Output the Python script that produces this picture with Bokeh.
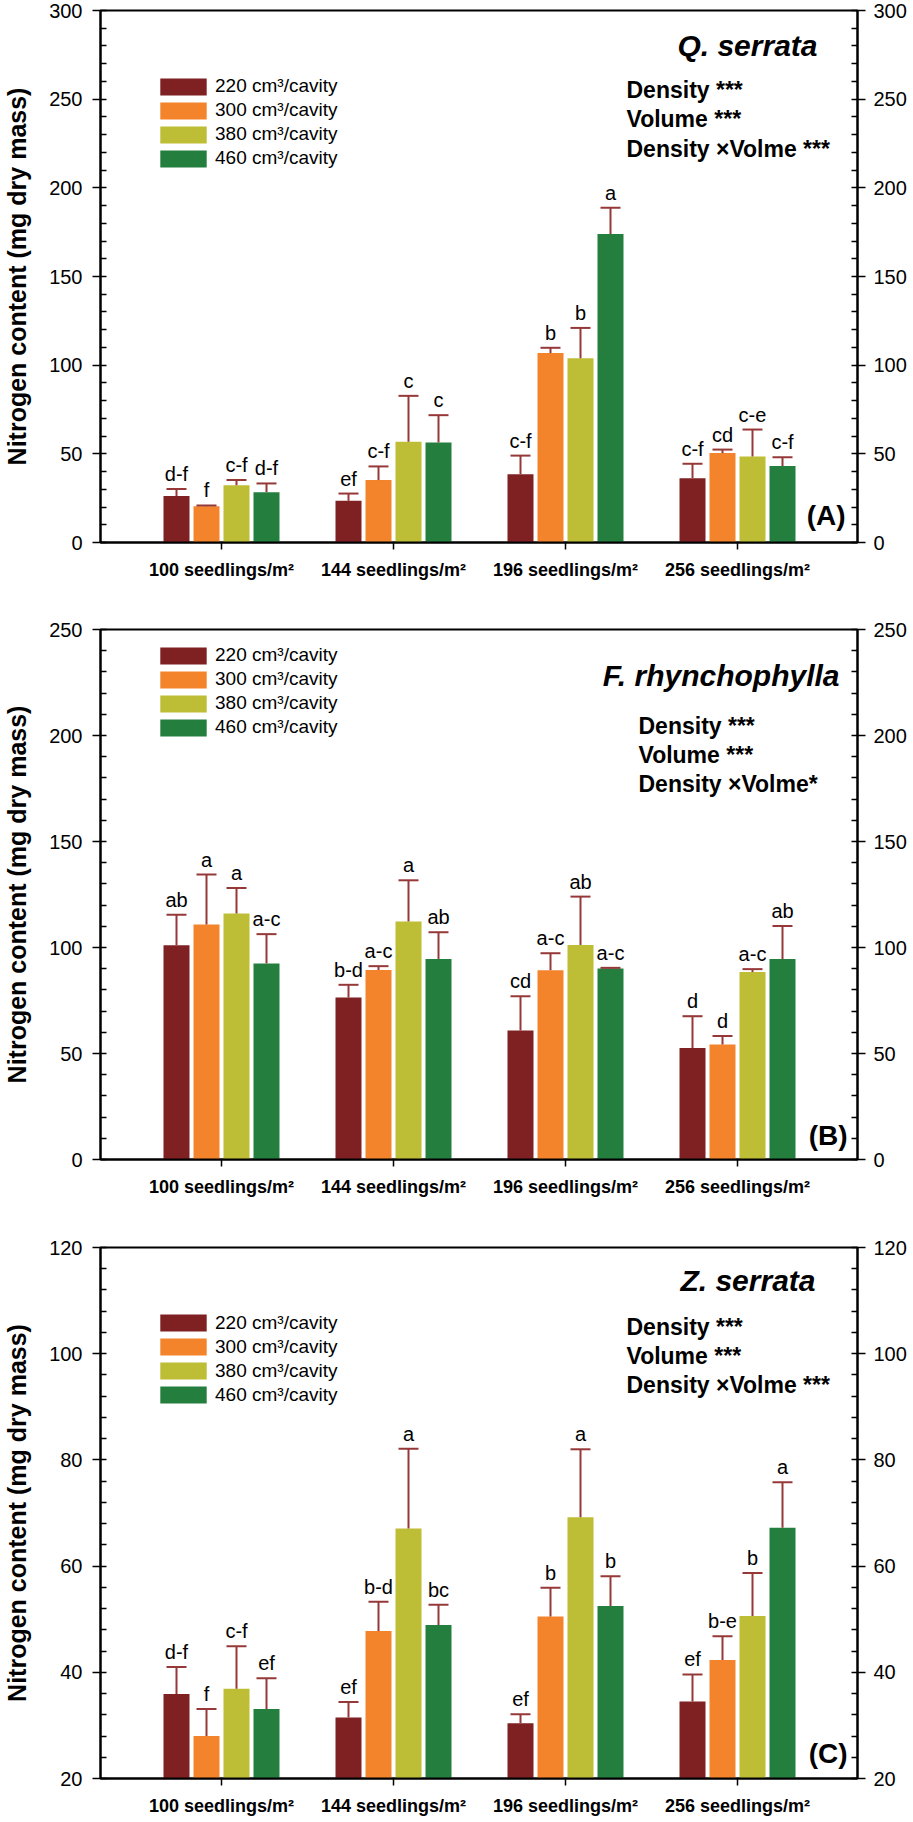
from bokeh.plotting import figure
from bokeh.models import (Range1d, SingleIntervalTicker, FixedTicker, LinearAxis,
                          ColumnDataSource, Whisker, TeeHead, Label, Legend, LegendItem)
from bokeh.layouts import column
from bokeh.embed import file_html
from bokeh.resources import INLINE
from bokeh.core.properties import value

# ---------------- data ----------------
densities = ["100 seedlings/m²", "144 seedlings/m²", "196 seedlings/m²", "256 seedlings/m²"]
volumes = ["220 cm³/cavity", "300 cm³/cavity", "380 cm³/cavity", "460 cm³/cavity"]

# (A) Q. serrata
qs_220 = [26.2, 23.5, 38.5, 36.3]
qs_300 = [20.5, 35.2, 106.8, 50.4]
qs_380 = [32.3, 56.8, 103.9, 48.5]
qs_460 = [28.4, 56.4, 174.0, 43.1]
qs_err_220 = [3.9, 4.1, 10.5, 8.1]
qs_err_300 = [0.4, 7.7, 3.0, 2.0]
qs_err_380 = [3.0, 25.9, 17.1, 15.2]
qs_err_460 = [4.9, 15.4, 14.7, 5.0]
qs_let_220 = ["d-f", "ef", "c-f", "c-f"]
qs_let_300 = ["f", "c-f", "b", "cd"]
qs_let_380 = ["c-f", "c", "b", "c-e"]
qs_let_460 = ["d-f", "c", "a", "c-f"]

# (B) F. rhynchophylla
fr_220 = [101.1, 76.4, 60.8, 52.6]
fr_300 = [110.8, 89.4, 89.3, 54.2]
fr_380 = [116.0, 112.3, 101.2, 88.4]
fr_460 = [92.5, 94.6, 90.1, 94.6]
fr_err_220 = [14.3, 6.0, 16.2, 15.0]
fr_err_300 = [23.6, 1.8, 8.0, 4.0]
fr_err_380 = [12.1, 19.4, 22.8, 1.4]
fr_err_460 = [13.8, 12.6, 0.3, 15.6]
fr_let_220 = ["ab", "b-d", "cd", "d"]
fr_let_300 = ["a", "a-c", "a-c", "d"]
fr_let_380 = ["a", "a", "ab", "a-c"]
fr_let_460 = ["a-c", "ab", "a-c", "ab"]

# (C) Z. serrata
zs_220 = [35.9, 31.5, 30.4, 34.5]
zs_300 = [28.0, 47.8, 50.5, 42.3]
zs_380 = [36.9, 67.1, 69.2, 50.6]
zs_460 = [33.1, 48.9, 52.5, 67.2]
zs_err_220 = [5.1, 2.9, 1.7, 5.1]
zs_err_300 = [5.1, 5.5, 5.4, 4.5]
zs_err_380 = [8.0, 15.0, 12.8, 8.1]
zs_err_460 = [5.8, 3.8, 5.6, 8.6]
zs_let_220 = ["d-f", "ef", "ef", "ef"]
zs_let_300 = ["f", "b-d", "b", "b-e"]
zs_let_380 = ["c-f", "a", "a", "b"]
zs_let_460 = ["ef", "bc", "b", "a"]

stats_qs = ["Density ***", "Volume ***", "Density ×Volme ***"]
stats_fr = ["Density ***", "Volume ***", "Density ×Volme*"]
stats_zs = ["Density ***", "Volume ***", "Density ×Volme ***"]

# ---------------- style ----------------
FONT = "Liberation Sans"
colors = ["#7F2022", "#F4842B", "#BDBE35", "#247F3E"]
err_color = "#963838"
W = 913
BL, BR = 100, 56
step_px = 172.0
x_lo, x_hi = -121 / step_px, 636 / step_px
offs = [(-1.5 + i) * 30 / step_px for i in range(4)]
bar_w = 26 / step_px


def style_y_axis(ax, ticker, standoff):
    ax.ticker = ticker
    ax.axis_line_width = 2
    ax.axis_line_color = "black"
    ax.major_tick_line_color = "black"
    ax.minor_tick_line_color = "black"
    ax.major_tick_line_width = 1.5
    ax.minor_tick_line_width = 1.5
    ax.major_tick_out = 8
    ax.major_tick_in = 0
    ax.minor_tick_out = 0
    ax.minor_tick_in = 6
    ax.major_label_text_font = FONT
    ax.major_label_text_font_size = "20px"
    ax.major_label_text_color = "black"
    ax.major_label_standoff = standoff


def make_panel(means, errs, lets, ylo, yhi, interval, species, stats, tag, cfg,
               btop, fh, bbot):
    p = figure(width=W, height=btop + fh + bbot, x_range=Range1d(x_lo, x_hi),
               y_range=Range1d(ylo, yhi), output_backend="svg",
               toolbar_location=None, min_border=0,
               min_border_left=BL, min_border_right=BR,
               min_border_top=btop, min_border_bottom=bbot)
    p.xgrid.grid_line_color = None
    p.ygrid.grid_line_color = None
    p.outline_line_color = "black"
    p.outline_line_width = 2
    p.background_fill_color = "white"
    p.border_fill_color = "white"

    # bottom axis
    xa = p.xaxis[0]
    xa.ticker = FixedTicker(ticks=[0, 1, 2, 3], minor_ticks=[])
    xa.major_label_overrides = {i: d for i, d in enumerate(densities)}
    xa.axis_line_width = 2
    xa.axis_line_color = "black"
    xa.major_tick_line_color = "black"
    xa.major_tick_line_width = 1.5
    xa.major_tick_out = 7
    xa.major_tick_in = 0
    xa.minor_tick_out = 0
    xa.minor_tick_in = 0
    xa.major_label_text_font = FONT
    xa.major_label_text_font_style = "bold"
    xa.major_label_text_font_size = "18px"
    xa.major_label_text_color = "black"
    xa.major_label_standoff = 10

    # left axis
    ya = p.yaxis[0]
    style_y_axis(ya, SingleIntervalTicker(interval=interval, num_minor_ticks=5), 10)
    ya.axis_label = "Nitrogen content (mg dry mass)"
    ya.axis_label_text_font = FONT
    ya.axis_label_text_font_style = "bold"
    ya.axis_label_text_font_size = "25px"
    ya.axis_label_text_color = "black"
    ya.axis_label_standoff = 15

    # right axis
    ra = LinearAxis()
    style_y_axis(ra, SingleIntervalTicker(interval=interval, num_minor_ticks=5), 8)
    p.add_layout(ra, "right")

    items = []
    for i in range(4):
        src = ColumnDataSource(dict(
            x=[g + offs[i] for g in range(4)],
            top=means[i],
            upper=[m + e for m, e in zip(means[i], errs[i])],
            lab=lets[i],
        ))
        r = p.vbar(x="x", top="top", bottom=ylo, width=bar_w, source=src,
                   fill_color=colors[i], line_color=None)
        items.append(LegendItem(label=volumes[i], renderers=[r]))
        wk = Whisker(source=src, base="x", lower="top", upper="upper",
                     dimension="height", line_color=err_color, line_width=2,
                     upper_head=TeeHead(size=20, line_color=err_color, line_width=2),
                     lower_head=None, level="overlay")
        p.add_layout(wk)
        p.text(x="x", y="upper", text="lab", source=src, text_align="center",
               text_baseline="bottom", y_offset=-4, text_font=value(FONT),
               text_font_size=value("20px"), text_color="black")

    row_h, sp = 22.0, 2
    leg_h = 4 * row_h + 3 * sp
    leg_top = cfg["legend_row1"] - row_h / 2
    legend = Legend(items=items, location=(54, fh - leg_top - leg_h),
                    padding=0, margin=0, spacing=sp,
                    glyph_width=58, glyph_height=21, label_standoff=3,
                    label_text_font=FONT, label_text_font_size="19px",
                    label_text_color="black",
                    label_height=17, border_line_color=None,
                    background_fill_alpha=0)
    p.add_layout(legend)

    fw = W - BL - BR
    p.add_layout(Label(x=fw - cfg["sp_right"], y=fh - cfg["sp_top"],
                       x_units="screen", y_units="screen", text=species,
                       text_align="right", text_baseline="middle",
                       text_font=FONT, text_font_style="bold italic",
                       text_font_size="30px", text_color="black"))
    for k, s in enumerate(stats):
        p.add_layout(Label(x=cfg["st_left"], y=fh - cfg["st_tops"][k],
                           x_units="screen", y_units="screen", text=s,
                           text_align="left", text_baseline="middle",
                           text_font=FONT, text_font_style="bold",
                           text_font_size="23px", text_color="black"))
    p.add_layout(Label(x=fw - cfg["tag_right"], y=cfg["tag_bottom"],
                       x_units="screen", y_units="screen", text=tag,
                       text_align="right", text_baseline="middle",
                       text_font=FONT, text_font_style="bold",
                       text_font_size="28px", text_color="black"))
    return p


cfg_a = dict(legend_row1=76, sp_right=40, sp_top=35, st_left=526,
             st_tops=[79, 108, 138], tag_right=12, tag_bottom=27)
cfg_b = dict(legend_row1=26, sp_right=18, sp_top=46, st_left=538,
             st_tops=[96, 125, 154], tag_right=10, tag_bottom=24)
cfg_c = dict(legend_row1=75.5, sp_right=42, sp_top=33, st_left=526,
             st_tops=[79, 108, 137.5], tag_right=10, tag_bottom=25)

pa = make_panel([qs_220, qs_300, qs_380, qs_460],
                [qs_err_220, qs_err_300, qs_err_380, qs_err_460],
                [qs_let_220, qs_let_300, qs_let_380, qs_let_460],
                0, 300, 50, "Q. serrata", stats_qs, "(A)", cfg_a, 10, 532, 48)
pb = make_panel([fr_220, fr_300, fr_380, fr_460],
                [fr_err_220, fr_err_300, fr_err_380, fr_err_460],
                [fr_let_220, fr_let_300, fr_let_380, fr_let_460],
                0, 250, 50, "F. rhynchophylla", stats_fr, "(B)", cfg_b, 39, 530, 46)
pc = make_panel([zs_220, zs_300, zs_380, zs_460],
                [zs_err_220, zs_err_300, zs_err_380, zs_err_460],
                [zs_let_220, zs_let_300, zs_let_380, zs_let_460],
                20, 120, 20, "Z. serrata", stats_zs, "(C)", cfg_c, 42, 531, 43)

layout = column(pa, pb, pc, spacing=0)
open("out.html", "w").write(file_html(layout, INLINE))
